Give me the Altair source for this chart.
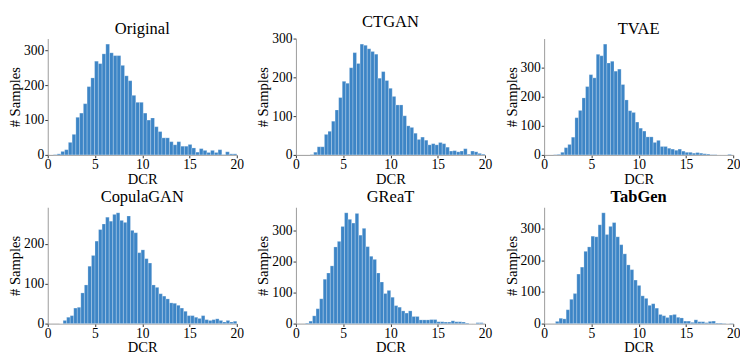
import altair as alt
import pandas as pd

titles = ["Original", "CTGAN", "TVAE", "CopulaGAN", "GReaT", "TabGen"]

original = [1, 3, 10, 15, 36, 59, 108, 120, 147, 196, 221, 269, 262, 290, 318, 293, 285, 285, 257, 227,
            213, 171, 151, 151, 120, 100, 106, 81, 67, 49, 49, 38, 29, 38, 25, 25, 30, 20, 8, 18,
            13, 7, 13, 7, 15, 1, 9, 3, 3]
ctgan = [1, 7, 21, 21, 53, 61, 87, 116, 148, 190, 185, 225, 264, 236, 286, 283, 274, 267, 260, 198,
         215, 192, 172, 151, 129, 129, 101, 75, 71, 56, 40, 46, 38, 26, 29, 26, 32, 29, 20, 10,
         11, 8, 10, 16, 2, 10, 8, 4, 2]
tvae = [1, 2, 9, 25, 36, 61, 128, 153, 196, 235, 276, 265, 346, 341, 381, 316, 322, 288, 295, 242,
        189, 152, 146, 113, 92, 82, 62, 62, 43, 50, 29, 29, 23, 20, 16, 20, 13, 9, 9, 6,
        8, 6, 4, 3, 1, 1, 0, 0, 0, 2]
copulagan = [0, 8, 16, 20, 39, 41, 77, 97, 144, 171, 207, 236, 250, 267, 257, 274, 278, 259, 254, 270,
             234, 228, 178, 185, 163, 152, 97, 91, 75, 69, 62, 52, 51, 46, 39, 31, 20, 20, 16, 13,
             20, 10, 8, 10, 12, 8, 4, 8, 4, 6]
great = [2, 8, 25, 48, 80, 143, 163, 186, 247, 265, 313, 357, 336, 324, 355, 285, 307, 248, 217, 207,
         163, 134, 97, 107, 85, 58, 53, 41, 34, 41, 23, 23, 12, 12, 12, 13, 13, 6, 6, 5,
         5, 9, 6, 6, 5, 2, 0, 0, 3, 3]
tabgen = [7, 17, 15, 44, 77, 95, 157, 179, 229, 243, 277, 275, 313, 351, 282, 308, 320, 275, 250, 221,
          186, 171, 138, 121, 88, 80, 58, 63, 49, 29, 25, 19, 27, 29, 20, 18, 8, 8, 4, 12,
          6, 6, 3, 7, 8, 2, 2, 1, 0, 1]

counts = [original, ctgan, tvae, copulagan, great, tabgen]
bin_start = [0.6, 1.5, 1.0, 1.25, 1.0, 1.2]
bin_end = [20.0, 20.0, 19.8, 20.0, 19.8, 20.0]
y_ticks = [[0, 100, 200, 300], [0, 100, 200, 300], [0, 100, 200, 300],
           [0, 100, 200], [0, 100, 200, 300], [0, 100, 200, 300]]
x_ticks = [0, 5, 10, 15, 20]

FONT = "Liberation Serif"
W, H = 195, 120


def panel(i):
    c = counts[i]
    n = len(c)
    w = (bin_end[i] - bin_start[i]) / n
    df = pd.DataFrame({
        "lo": [bin_start[i] + k * w for k in range(n)],
        "hi": [bin_start[i] + (k + 1) * w for k in range(n)],
        "count": c,
        "base": [0] * n,
    })
    ymax = max(c) * 1.05
    bold = titles[i] == "TabGen"
    return alt.Chart(df).mark_rect(
        color="#3d85c6", stroke="#ffffff", strokeWidth=0.6, strokeOpacity=0.4
    ).encode(
        x=alt.X("lo:Q", scale=alt.Scale(domain=[0, 20], nice=False, zero=False),
                axis=alt.Axis(title="DCR", values=x_ticks, grid=False, tickSize=3,
                              labelPadding=0, titlePadding=0, labelFontSize=14,
                              titleFontSize=15, domainColor="#999999", tickColor="#333333",
                              labelColor="#000000", titleColor="#000000",
                              labelFont=FONT, titleFont=FONT,
                              titleFontWeight="normal", labelFlush=False)),
        x2="hi:Q",
        y=alt.Y("count:Q", scale=alt.Scale(domain=[0, ymax], nice=False),
                axis=alt.Axis(title="# Samples", values=y_ticks[i], grid=False, tickSize=3,
                              labelPadding=1, titlePadding=1, labelFontSize=14,
                              titleFontSize=15, domainColor="#999999", tickColor="#333333",
                              labelColor="#000000", titleColor="#000000",
                              labelFont=FONT, titleFont=FONT,
                              titleFontWeight="normal")),
        y2="base:Q",
    ).properties(
        width=W, height=H,
        title=alt.TitleParams(titles[i], fontSize=17, font=FONT,
                              fontWeight="bold" if bold else "normal", offset=1,
                              color="#000000"),
    )


row1 = alt.hconcat(panel(0), panel(1), panel(2), spacing=13)
row2 = alt.hconcat(panel(3), panel(4), panel(5), spacing=13)
chart = alt.vconcat(row1, row2, spacing=3).configure(font=FONT).configure_axis(
    labelFont=FONT, titleFont=FONT).configure_title(font=FONT).configure_view(
    stroke=None).properties(padding=0)

chart.save("out.html", embed_options={"renderer": "svg", "actions": False})
